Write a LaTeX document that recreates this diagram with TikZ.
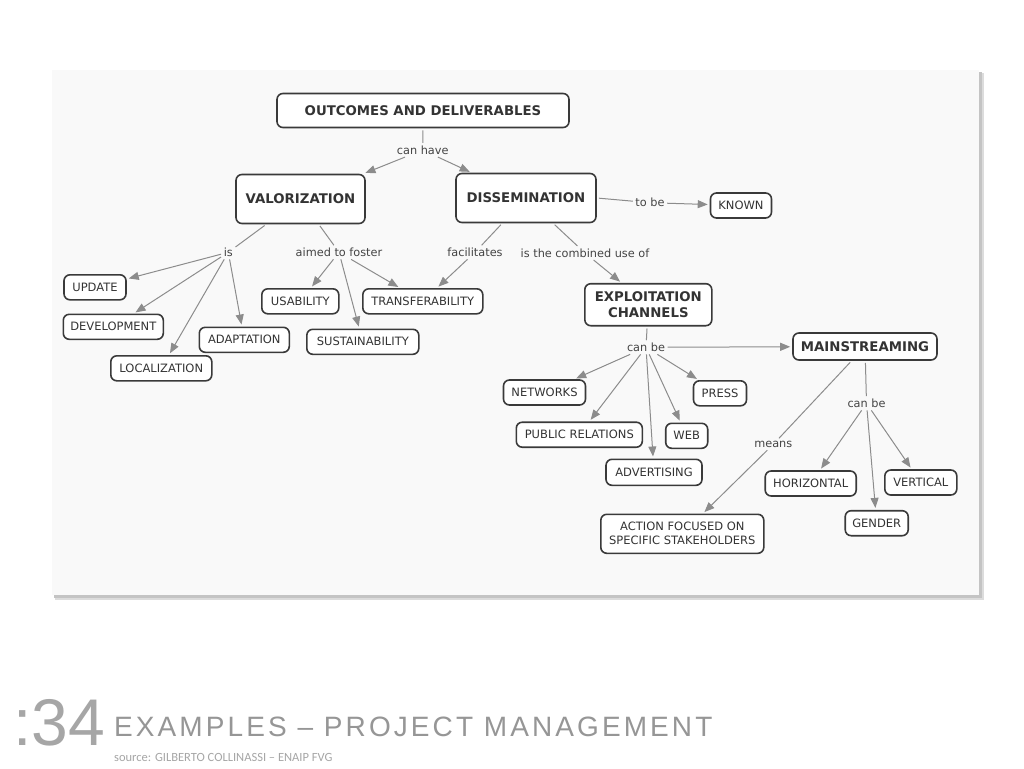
\documentclass[tikz,border=0pt]{standalone}
\usepackage{fontspec}
\setmainfont{DejaVu Sans}
\newfontfamily\arialf{Liberation Sans}
\newfontfamily\titlef[LetterSpace=11]{Liberation Sans}
\newfontfamily\calf{Carlito}
\usetikzlibrary{arrows.meta}
\definecolor{panel}{HTML}{F9F9F9}
\definecolor{shadowc}{HTML}{C4C4C4}
\definecolor{boxc}{HTML}{3A3A3A}
\definecolor{txt}{HTML}{333333}
\definecolor{lbl}{HTML}{444444}
\definecolor{linec}{HTML}{8C8C8C}
\definecolor{foot}{HTML}{A6A6A6}
\definecolor{titlec}{HTML}{969696}
\tikzset{
  concept/.style={draw=boxc, line width=1.6pt, rounded corners=6pt, fill=white, text=txt,
    inner sep=0pt, align=center, font=\fontsize{11.5}{13}\selectfont},
  bigc/.style={concept, font=\bfseries\fontsize{13.3}{16}\selectfont},
  lnk/.style={text=lbl, inner sep=2.5pt, font=\fontsize{11.3}{13}\selectfont},
  arr/.style={draw=linec, line width=1pt, -{Triangle[length=10pt,width=8pt]}, shorten >=2pt},
  ln/.style={draw=linec, line width=1pt, shorten <=2pt}
}
\begin{document}
\begin{tikzpicture}[x=1pt,y=-1pt]
\useasboundingbox (0,0) rectangle (1024,768);
\fill[white] (0,0) rectangle (1024,768);
% panel
\fill[shadowc!60] (55,73) rectangle (984,600);
\fill[shadowc] (54,72) rectangle (982,598);
\fill[panel] (52,70) rectangle (979,595);

% concepts
\node[bigc, minimum width=292, minimum height=34] (out) at (423,110.5) {OUTCOMES AND DELIVERABLES};
\node[bigc, minimum width=129, minimum height=49] (val) at (300.5,199) {VALORIZATION};
\node[bigc, minimum width=140, minimum height=49] (dis) at (526,198) {DISSEMINATION};
\node[concept, minimum width=61, minimum height=25] (known) at (741,205.5) {KNOWN};
\node[bigc, minimum width=127, minimum height=42, font=\bfseries\fontsize{13.3}{16}\selectfont] (ec) at (648.3,304.7) {EXPLOITATION\\CHANNELS};
\node[bigc, minimum width=144, minimum height=27] (main) at (865,346.5) {MAINSTREAMING};
\node[concept, minimum width=62, minimum height=25] (upd) at (95,287.3) {UPDATE};
\node[concept, minimum width=100, minimum height=25] (dev) at (113.3,326.8) {DEVELOPMENT};
\node[concept, minimum width=101, minimum height=25] (loc) at (161.3,368.3) {LOCALIZATION};
\node[concept, minimum width=90, minimum height=25] (ada) at (244.3,339.8) {ADAPTATION};
\node[concept, minimum width=77, minimum height=25] (usa) at (300.3,301.3) {USABILITY};
\node[concept, minimum width=120, minimum height=25] (tra) at (422.8,301.3) {TRANSFERABILITY};
\node[concept, minimum width=112, minimum height=25] (sus) at (362.8,341.8) {SUSTAINABILITY};
\node[concept, minimum width=82, minimum height=25] (net) at (544.5,392.5) {NETWORKS};
\node[concept, minimum width=53, minimum height=25] (press) at (720,393.3) {PRESS};
\node[concept, minimum width=126, minimum height=25] (pr) at (579.3,434.7) {PUBLIC RELATIONS};
\node[concept, minimum width=42, minimum height=25] (web) at (686.7,435.8) {WEB};
\node[concept, minimum width=96, minimum height=26] (adv) at (654,472.3) {ADVERTISING};
\node[concept, minimum width=91, minimum height=25] (hor) at (810.7,483.5) {HORIZONTAL};
\node[concept, minimum width=72, minimum height=25] (ver) at (920.8,482.5) {VERTICAL};
\node[concept, minimum width=63, minimum height=25] (gen) at (876.7,523.2) {GENDER};
\node[concept, minimum width=163, minimum height=39, font=\fontsize{11.5}{14}\selectfont] (act) at (682.3,533.8) {ACTION FOCUSED ON\\SPECIFIC STAKEHOLDERS};

% link labels
\node[lnk] (canhave) at (422.7,150) {can have};
\node[lnk] (is) at (228.3,252.3) {is};
\node[lnk] (aimed) at (339,252.3) {aimed to foster};
\node[lnk] (facil) at (475,252.3) {facilitates};
\node[lnk] (comb) at (585,253) {is the combined use of};
\node[lnk] (tobe) at (650,202.7) {to be};
\node[lnk] (canbeA) at (646,347.3) {can be};
\node[lnk] (means) at (773.3,444.3) {means};
\node[lnk] (canbeB) at (866.5,403.3) {can be};

% connectors
\draw[ln] (out) -- (canhave);
\draw[arr] (canhave) -- (val);
\draw[arr] (canhave) -- (dis);
\draw[ln] (val) -- (is);
\draw[arr] (is) -- (upd);
\draw[arr] (is) -- (dev);
\draw[arr] (is) -- (loc);
\draw[arr] (is) -- (ada);
\draw[ln] (val) -- (aimed);
\draw[arr] (aimed) -- (usa);
\draw[arr] (aimed) -- (tra);
\draw[arr] (aimed) -- (sus);
\draw[ln] (dis) -- (facil);
\draw[arr] (facil) -- (tra);
\draw[ln] (dis) -- (comb);
\draw[arr] (comb) -- (ec);
\draw[ln] (dis.east) -- (tobe);
\draw[arr] (tobe) -- (known);
\draw[ln] (ec) -- (canbeA);
\draw[arr] (canbeA) -- (net);
\draw[arr] (canbeA) -- (pr);
\draw[arr] (canbeA) -- (adv);
\draw[arr] (canbeA) -- (web);
\draw[arr] (canbeA) -- (press);
\draw[arr] (canbeA) -- (main);
\draw[ln] (main) -- (means);
\draw[arr] (means) -- (act);
\draw[ln] (main) -- (canbeB);
\draw[arr] (canbeB) -- (hor);
\draw[arr] (canbeB) -- (gen);
\draw[arr] (canbeB) -- (ver);

% footer
\node[anchor=base west, inner sep=0pt, text=foot, font=\arialf\fontsize{66}{66}\selectfont] (num) at (13,745) {:34};
\node[anchor=base west, inner sep=0pt, text=titlec, font=\titlef\fontsize{28}{28}\selectfont] (title) at (114,736) {EXAMPLES – PROJECT MANAGEMENT};
\node[anchor=base west, inner sep=0pt, text=foot, font=\calf\fontsize{12.5}{13}\selectfont] (src) at (114,761.5) {source: GILBERTO COLLINASSI – ENAIP FVG};
\end{tikzpicture}
\end{document}
